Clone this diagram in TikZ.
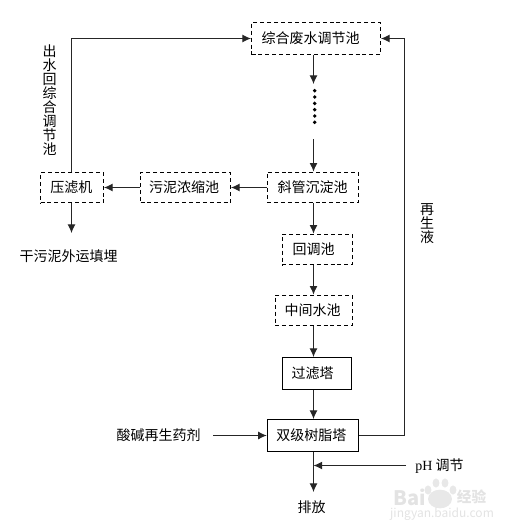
\documentclass[tikz,border=0pt]{standalone}
\usepackage{fontspec}
\setmainfont{Noto Sans CJK SC}
\newfontfamily\latinserif{Liberation Serif}
\usetikzlibrary{arrows.meta,calc}
\tikzset{
  px/.style={x=0.75pt,y=-0.75pt},
  dashbox/.style={draw=black,line width=0.75pt,dash pattern=on 3pt off 2.2pt,inner sep=0pt,anchor=center,font=\fontsize{10.5pt}{10.5pt}\selectfont},
  solidbox/.style={draw=black,line width=0.75pt,inner sep=0pt,anchor=center,font=\fontsize{10.5pt}{10.5pt}\selectfont},
  lab/.style={inner sep=0pt,anchor=center,font=\fontsize{10.5pt}{10.5pt}\selectfont},
  vlab/.style={inner sep=0pt,anchor=center,align=center,font=\fontsize{10.5pt}{10.5pt}\selectfont},
  conn/.style={draw=black!85,line width=0.8pt,-{Latex[length=6.5pt,width=6pt]}},
  wm/.style={inner sep=0pt,text=black!11}
}
\begin{document}
\begin{tikzpicture}[px]
\useasboundingbox (0,0) rectangle (516,532);
% boxes
\node[dashbox,minimum width=96.75pt,minimum height=24pt] (zh) at (316,38.5) {综合废水调节池\kern8.2pt};
\node[dashbox,minimum width=68.25pt,minimum height=23pt] (xg) at (312.5,187.5) {斜管沉淀池};
\node[dashbox,minimum width=67.5pt,minimum height=23pt] (wn) at (185.5,187.5) {污泥浓缩池\kern2.2pt};
\node[dashbox,minimum width=47.25pt,minimum height=23pt] (yl) at (72,187.5) {压滤机\kern1pt};
\node[dashbox,minimum width=52.5pt,minimum height=23pt] (ht) at (317,249.5) {回调池\kern5.25pt};
\node[dashbox,minimum width=57.75pt,minimum height=23pt] (zj) at (313.5,310.5) {中间水池\kern1.5pt};
\node[solidbox,minimum width=52pt,minimum height=24pt] (gl) at (317,373.5) {过滤塔\kern6.75pt};
\node[solidbox,minimum width=68.25pt,minimum height=24pt] (sj) at (312.8,435.5) {双级树脂塔\kern2pt};
% labels
\node[lab] (gw) at (68.5,256) {干污泥外运填埋};
\node[lab] (sj2) at (158.5,435.5) {酸碱再生药剂};
\node[inner sep=0pt,anchor=center,font=\fontsize{10.5pt}{10.5pt}\selectfont] (ph) at (439.5,466.5) {{\latinserif pH} 调节};
\node[lab] (pf) at (311.5,507) {排放};
\node[vlab] (cs) at (49.5,100) {出\\水\\回\\综\\合\\调\\节\\池};
\node[vlab] (zs) at (427,224) {再\\生\\液};
% free ends
\coordinate (cx) at (313.5,0);
\coordinate (d1) at (313.5,84);
\coordinate (d2) at (313.5,139);
\coordinate (gwtop) at (71.5,233);
\coordinate (rt) at (404.5,0);
\coordinate (lt) at (71.5,0);
\coordinate (sjin) at (213,435.5);
\coordinate (phin) at (406,465.5);
\coordinate (phout) at (313.5,465.5);
\coordinate (pfend) at (313.5,492);
% connectors
\draw[conn] (zh.south -| cx) -- (d1);
\draw[conn] (d2) -- (xg.north -| cx);
\draw[conn] (xg.west) -- (wn.east);
\draw[conn] (wn.west) -- (yl.east);
\draw[conn] (yl.south -| lt) -- (gwtop);
\draw[conn] (xg.south -| cx) -- (ht.north -| cx);
\draw[conn] (ht.south -| cx) -- (zj.north -| cx);
\draw[conn] (zj.south -| cx) -- (gl.north -| cx);
\draw[conn] (gl.south -| cx) -- (sj.north -| cx);
\draw[conn] (sj.south -| cx) -- (pfend);
\draw[conn] (sjin) -- (sj.west |- sjin);
\draw[conn] (phin) -- (phout);
\draw[conn] (sj.east) -| (rt |- zh.east) -- (zh.east);
\draw[conn] (yl.north -| lt) -- (lt |- zh.west) -- (zh.west);
% dots
\foreach \y in {90.7,97,103.4,109.7,116,122.3}
  \fill (314.7,\y) circle (1.45pt);
% watermark
\fill[black!9] (440,499) ellipse (9pt and 7pt);
\foreach \a/\b in {428/490,436/483,445/483,453/490}
  \fill[black!9] (\a,\b) ellipse (2.6pt and 3.4pt);
\node[wm,font=\bfseries\fontsize{15pt}{15pt}\selectfont] (wm1) at (410,497) {Bai};
\node[wm,font=\bfseries\fontsize{11pt}{11pt}\selectfont] (wm3) at (471.5,497) {经验};
\node[wm,font=\fontsize{9pt}{9pt}\selectfont] (wm2) at (442,514) {jingyan.baidu.com};
\end{tikzpicture}
\end{document}
